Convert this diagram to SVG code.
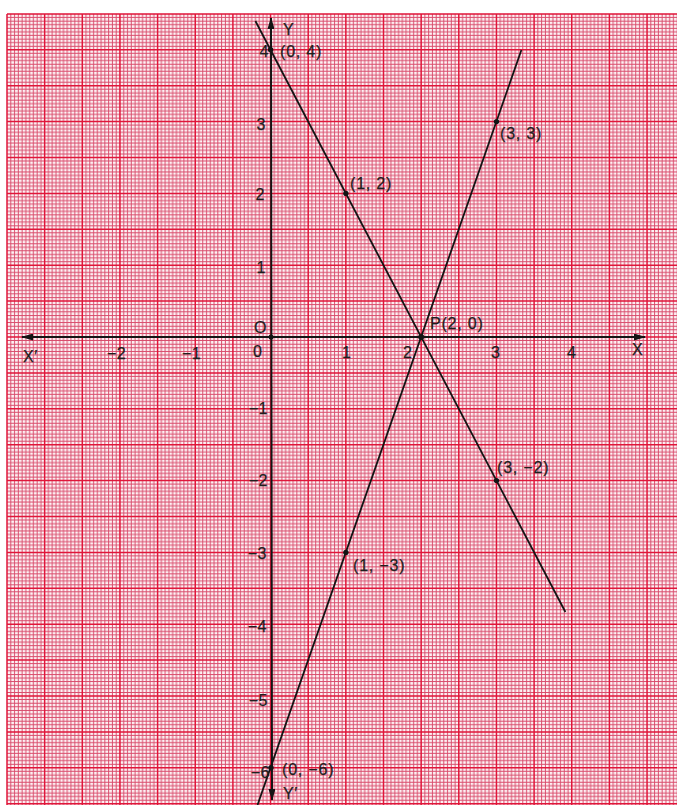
<svg xmlns="http://www.w3.org/2000/svg" width="677" height="805" viewBox="0 0 677 805">
<style>
.t{font-family:"Liberation Sans",Arial,sans-serif;font-size:16px;fill:#1e1e1e;letter-spacing:0.5px;stroke:#1e1e1e;stroke-width:0.25px}
.p{font-family:"Liberation Sans",Arial,sans-serif;font-size:16px;fill:#1e1e1e;letter-spacing:0.8px;stroke:#1e1e1e;stroke-width:0.25px}
.ln{stroke:#141414;stroke-width:1.8;fill:none}
.ax{stroke:#141414;stroke-width:2;fill:none;marker-start:url(#arr);marker-end:url(#arr)}
.dot{fill:#141414}
</style>
<defs>
<pattern id="minor" patternUnits="userSpaceOnUse" x="7" y="13.9" width="37.65" height="35.9">
<path d="M3.765 0V35.9M7.53 0V35.9M11.295 0V35.9M15.06 0V35.9M18.825 0V35.9M22.59 0V35.9M26.355 0V35.9M30.12 0V35.9M33.885 0V35.9M0 3.59H37.65M0 7.18H37.65M0 10.77H37.65M0 14.36H37.65M0 17.95H37.65M0 21.54H37.65M0 25.13H37.65M0 28.72H37.65M0 32.31H37.65" stroke="#d94c6c" stroke-width="1" fill="none"/>
</pattern>
<marker id="arr" viewBox="0 0 12 7" markerWidth="12" markerHeight="7" markerUnits="userSpaceOnUse" refX="11" refY="3.5" orient="auto-start-reverse">
<path d="M0 0L12 3.5L0 7z" fill="#141414"/>
</marker>
</defs>
<rect width="677" height="805" fill="#ffffff"/>
<g id="paper">
<rect x="7" y="13.9" width="670" height="791.1" fill="#fdf3f5"/>
<rect x="7" y="13.9" width="670" height="791.1" fill="url(#minor)"/>
<path d="M7 13.9V805M44.65 13.9V805M82.3 13.9V805M119.95 13.9V805M157.6 13.9V805M195.25 13.9V805M232.9 13.9V805M270.55 13.9V805M308.2 13.9V805M345.85 13.9V805M383.5 13.9V805M421.15 13.9V805M458.8 13.9V805M496.45 13.9V805M534.1 13.9V805M571.75 13.9V805M609.4 13.9V805M647.05 13.9V805M7 13.9H677M7 49.8H677M7 85.7H677M7 121.6H677M7 157.5H677M7 193.4H677M7 229.3H677M7 265.2H677M7 301.1H677M7 337H677M7 372.9H677M7 408.8H677M7 444.7H677M7 480.6H677M7 516.5H677M7 552.4H677M7 588.3H677M7 624.2H677M7 660.1H677M7 696H677M7 731.9H677M7 767.8H677M7 803.7H677" stroke="#e0163a" stroke-width="1.5" fill="none"/>
</g>
<g id="axes">
<line class="ax" x1="22" y1="337" x2="645" y2="337"/>
<line class="ax" x1="271" y1="18" x2="272" y2="800"/>
</g>
<g id="connectors">
<line id="line1" class="ln" x1="255.4" y1="21" x2="565.4" y2="612"/>
<line id="line2" class="ln" x1="521.4" y1="50" x2="257.5" y2="805"/>
</g>
<g id="points">
<circle class="dot" cx="270.6" cy="49.8" r="2.7"/>
<circle class="dot" cx="345.9" cy="193.4" r="2.7"/>
<circle class="dot" cx="421.2" cy="337" r="3"/>
<circle class="dot" cx="496.5" cy="480.6" r="2.7"/>
<circle class="dot" cx="496.5" cy="121.6" r="2.7"/>
<circle class="dot" cx="345.9" cy="552.4" r="2.7"/>
<circle class="dot" cx="271" cy="767.8" r="2.7"/>
<circle class="dot" cx="271" cy="337" r="2.5"/>
</g>
<g id="ylabels" class="t" text-anchor="end">
<text x="269" y="57">4</text>
<text x="266" y="130">3</text>
<text x="265" y="200">2</text>
<text x="266" y="273">1</text>
<text x="268" y="414">−1</text>
<text x="268" y="486">−2</text>
<text x="267" y="559">−3</text>
<text x="267" y="632">−4</text>
<text x="268" y="706">−5</text>
<text x="270" y="778">−6</text>
</g>
<g id="xlabels" class="t">
<text x="107" y="359">−2</text>
<text x="182" y="359">−1</text>
<text x="253" y="357">0</text>
<text x="342" y="358">1</text>
<text x="403" y="358">2</text>
<text x="491" y="358">3</text>
<text x="567" y="358">4</text>
<text x="254" y="333">O</text>
<text x="23" y="362">X′</text>
<text x="632" y="355">X</text>
<text x="283" y="35">Y</text>
<text x="283" y="799">Y′</text>
</g>
<g id="pointlabels" class="p">
<text x="280" y="57">(0, 4)</text>
<text x="350" y="189">(1, 2)</text>
<text x="500" y="139">(3, 3)</text>
<text x="430" y="329">P(2, 0)</text>
<text x="497" y="473">(3, −2)</text>
<text x="353" y="571">(1, −3)</text>
<text x="282" y="775">(0, −6)</text>
</g>
</svg>
